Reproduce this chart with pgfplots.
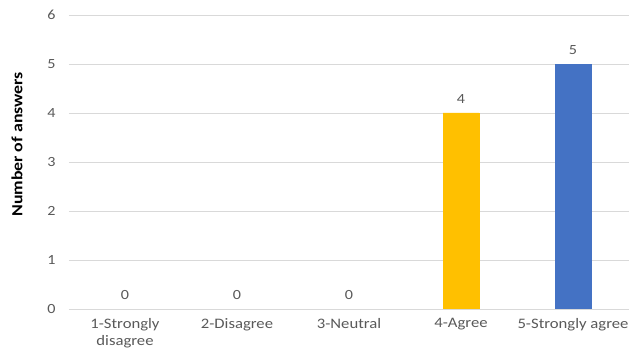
\documentclass[border=0pt]{standalone}
\usepackage{fontspec}
\setmainfont{Carlito}[FakeStretch=1.15]
\usepackage{pgfplots}
\pgfplotsset{compat=1.18}
\definecolor{cyellow}{HTML}{FFC000}
\definecolor{cblue}{HTML}{4472C4}
\definecolor{cgrid}{HTML}{D9D9D9}
\definecolor{ctext}{HTML}{595959}
\begin{document}
\begin{tikzpicture}
\begin{axis}[
  at={(0,0)}, anchor=south west,
  scale only axis, width=560bp, height=294bp,
  xmin=-0.5, xmax=4.5, ymin=0, ymax=6,
  ytick={0,1,2,3,4,5,6},
  xtick={0,1,2,3,4},
  xticklabels={{1-Strongly\\disagree},{2-Disagree},{3-Neutral},{4-Agree},{5-Strongly agree}},
  xticklabel style={align=center, font=\fontsize{14.5bp}{17bp}\selectfont, text=ctext, yshift=-6bp},
  yticklabel style={font=\fontsize{14bp}{16bp}\selectfont, text=ctext, xshift=-10bp},
  /pgf/number format/assume math mode=true,
  major tick length=0pt,
  ymajorgrids, grid style={cgrid, line width=0.8bp},
  axis line style={draw=none},
  axis x line*=bottom, axis y line*=left,
  ylabel={\textbf{Number of answers}},
  ylabel style={at={(axis description cs:-0.093,0.56)}, anchor=center, font=\fontsize{15.5bp}{18bp}\selectfont, text=black},
  nodes near coords,
  every node near coord/.append style={font=\fontsize{14bp}{16bp}\selectfont, text=ctext, yshift=6bp},
  ybar, bar width=36bp, bar shift=0pt,
  clip=false,
]
\addplot[fill=cyellow, draw=cyellow] coordinates {(0,0) (1,0) (2,0) (3,4)};
\addplot[fill=cblue, draw=cblue] coordinates {(4,5)};
\draw[cgrid, line width=0.8bp] (axis cs:-0.5,0) -- (axis cs:4.5,0);
\end{axis}
\pgfresetboundingbox
\path[use as bounding box] (-69bp,-49bp) rectangle (561bp,309bp);
\end{tikzpicture}
\end{document}
